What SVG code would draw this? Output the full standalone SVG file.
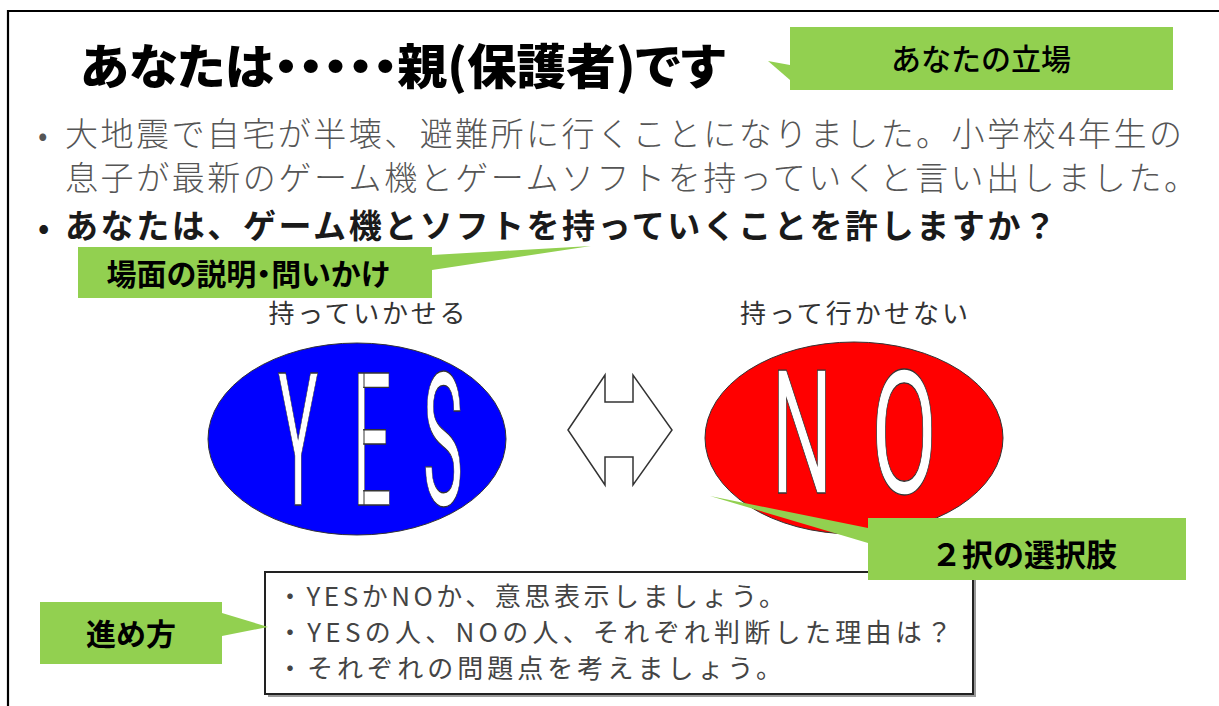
<svg xmlns="http://www.w3.org/2000/svg" width="1219" height="706" viewBox="0 0 1219 706">
<style>
.jp{font-family:"Noto Sans CJK JP","Noto Sans CJK SC",sans-serif;}
.title{font-size:48px;font-weight:900;fill:#000;font-feature-settings:"palt";}
.body{font-size:33px;font-weight:300;fill:#555;}
.bodyb{font-size:33px;font-weight:700;fill:#1a1a1a;}
.callout{fill:#92D050;}
.ctext{font-size:30px;font-weight:700;fill:#000;text-anchor:middle;}
.lbl{font-size:26px;font-weight:400;fill:#333;text-anchor:middle;}
.big{font-family:Roboto,"Liberation Sans",sans-serif;font-weight:400;fill:#fff;stroke:#333;stroke-width:1.3;text-anchor:middle;}
.boxt{font-size:26px;font-weight:400;fill:#444;}
</style>
<rect width="1219" height="706" fill="#fff"/>
<g id="frame">
<path d="M8,706 V11 H1219" fill="none" stroke="#000" stroke-width="2.2"/>
</g>
<g id="title">
<text class="jp title" x="80" y="84" textLength="645" lengthAdjust="spacingAndGlyphs">あなたは・・・・・親(保護者)です</text>
</g>
<g id="callout-position">
<polygon class="callout" points="768,61 790,65 790,80"/>
<rect class="callout" x="790" y="27" width="383" height="63"/>
<text class="jp ctext" x="981" y="70" style="font-weight:500">あなたの立場</text>
</g>
<g id="scenario">
<text class="jp body" x="38" y="146" style="font-size:30px">•</text>
<text class="jp body" x="65" y="146" textLength="1117" lengthAdjust="spacing">大地震で自宅が半壊、避難所に行くことになりました。小学校4年生の</text>
<text class="jp body" x="65" y="190" textLength="1132" lengthAdjust="spacing">息子が最新のゲーム機とゲームソフトを持っていくと言い出しました。</text>
<text class="jp bodyb" x="38" y="238" style="font-size:30px">•</text>
<text class="jp bodyb" x="65" y="238" textLength="991" lengthAdjust="spacing">あなたは、ゲーム機とソフトを持っていくことを許しますか？</text>
</g>
<g id="callout-scene">
<polygon class="callout" points="591,246 432,255 432,270"/>
<rect class="callout" x="78" y="247" width="354" height="51"/>
<text class="jp ctext" x="248" y="285" style="font-feature-settings:'palt'">場面の説明・問いかけ</text>
</g>
<g id="yes">
<text class="jp lbl" x="367" y="323" textLength="197" lengthAdjust="spacing">持っていかせる</text>
<ellipse cx="357" cy="439" rx="149" ry="96" fill="#0000FF" stroke="#333" stroke-width="1"/>
<text class="big" font-size="186" transform="translate(298,505) scale(0.36,1)">Y</text>
<text class="big" font-size="186" transform="translate(372,505) scale(0.37,1)">E</text>
<text class="big" font-size="186" transform="translate(443,505) scale(0.36,1)">S</text>
</g>
<g id="no">
<text class="jp lbl" x="854" y="323" textLength="228" lengthAdjust="spacing">持って行かせない</text>
<ellipse cx="854" cy="438" rx="149" ry="96" fill="#FF0000" stroke="#333" stroke-width="1"/>
<text class="big" font-size="172" transform="translate(802,493) scale(0.5,1)">N</text>
<text class="big" font-size="172" transform="translate(904,493) scale(0.56,1)">O</text>
</g>
<g id="connectors">
<polygon points="568,430 605,375 605,402 633,402 633,375 672,430 633,485 633,457 605,457 605,485" fill="#fff" stroke="#333" stroke-width="1.5" stroke-linejoin="miter"/>
</g>
<g id="steps">
<rect x="268" y="575" width="708" height="122" fill="#999"/>
<rect x="265" y="572" width="708" height="122" fill="#fff" stroke="#222" stroke-width="2"/>
<text class="jp boxt" x="277" y="606" textLength="508" lengthAdjust="spacing">・YESかNOか、意思表示しましょう。</text>
<text class="jp boxt" x="277" y="642" textLength="675" lengthAdjust="spacing">・YESの人、NOの人、それぞれ判断した理由は？</text>
<text class="jp boxt" x="277" y="678" textLength="505" lengthAdjust="spacing">・それぞれの問題点を考えましょう。</text>
</g>
<g id="callout-choice">
<polygon class="callout" points="710,496 868,528 868,543"/>
<rect class="callout" x="868" y="518" width="318" height="62"/>
<text class="jp ctext" x="1024" y="566" style="font-size:31px">２択の選択肢</text>
</g>
<g id="callout-steps">
<polygon class="callout" points="268,627 222,613 222,636"/>
<rect class="callout" x="40" y="602" width="182" height="62"/>
<text class="jp ctext" x="131" y="645">進め方</text>
</g>
</svg>
